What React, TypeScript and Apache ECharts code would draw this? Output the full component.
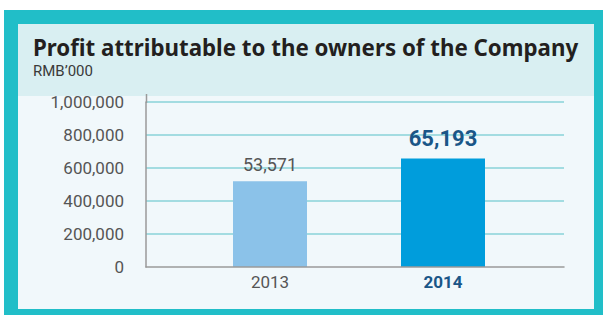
import React, { useEffect, useRef } from "react";
import * as echarts from "echarts";

const categories = ["2013", "2014"];
const barValues2013 = [520000, "-"];
const barValues2014 = ["-", 658000];
const valueLabels = ["53,571", "65,193"];
const yTicks = [0, 200000, 400000, 600000, 800000, 1000000];
const titleText = "Profit attributable to the owners of the Company";
const unitText = "RMB’000";

const fmt = (v: number) => v.toLocaleString("en-US");

export default function App() {
  const ref = useRef<HTMLDivElement>(null);
  useEffect(() => {
    if (!ref.current) return;
    const chart = echarts.init(ref.current, undefined, { renderer: "svg" });
    const yMin = yTicks[0];
    const yMax = yTicks[yTicks.length - 1];
    const yInterval = yTicks[1] - yTicks[0];
    chart.setOption({
      animation: false,
      backgroundColor: "#ffffff",
      title: [
        {
          text: titleText,
          left: 33,
          top: 36,
          padding: 0,
          textStyle: { fontFamily: "Noto Sans", fontWeight: "bold", fontSize: 22.3, color: "#231f20" },
        },
        {
          text: unitText,
          left: 33,
          top: 63,
          padding: 0,
          textStyle: { fontFamily: "Roboto", fontWeight: "normal", fontSize: 15, color: "#3a3a3a" },
        },
      ],
      graphic: [
        { type: "rect", z: -10, shape: { x: 4, y: 10, width: 599, height: 305 }, style: { fill: "#21bec8" } },
        { type: "rect", z: -9, shape: { x: 18, y: 24, width: 576, height: 285 }, style: { fill: "#f1f8fb" } },
        { type: "rect", z: -8, shape: { x: 18, y: 24, width: 576, height: 72 }, style: { fill: "#d9eff2" } },
        { type: "line", z: 5, shape: { x1: 146.5, y1: 94, x2: 146.5, y2: 103 }, style: { stroke: "#9a9a9a", lineWidth: 1.5 } },
      ],
      grid: [
        { left: 146, top: 102, width: 418, height: 165 },
        { left: 183.5, top: 102, width: 346, height: 165 },
      ],
      xAxis: [
        {
          gridIndex: 0,
          type: "category",
          data: [""],
          axisLine: { show: true, lineStyle: { color: "#9a9a9a", width: 1.5 } },
          axisTick: { show: false },
          axisLabel: { show: false },
          z: 3,
        },
        {
          gridIndex: 1,
          type: "category",
          data: categories,
          axisLine: { show: false },
          axisTick: { show: false },
          axisLabel: {
            margin: 6,
            formatter: (v: string, i: number) => (i === 1 ? `{b|${v}}` : `{a|${v}}`),
            rich: {
              a: { fontFamily: "Roboto", fontSize: 17, color: "#555555" },
              b: { fontFamily: "Roboto", fontSize: 17, fontWeight: "bold", color: "#1a5687" },
            },
          },
        },
        {
          gridIndex: 1,
          type: "category",
          data: categories,
          position: "top",
          show: false,
        },
      ],
      yAxis: [
        {
          gridIndex: 0,
          type: "value",
          min: yMin,
          max: yMax,
          interval: yInterval,
          axisLine: { show: true, lineStyle: { color: "#9a9a9a", width: 1.5 } },
          axisTick: { show: false },
          axisLabel: {
            margin: 22,
            formatter: (v: number) => fmt(v),
            fontFamily: "Roboto",
            fontSize: 17,
            color: "#555555",
          },
          splitLine: { show: true, showMinLine: false, lineStyle: { color: "#a3dce1", width: 1.8 } },
        },
        {
          gridIndex: 1,
          type: "value",
          min: yMin,
          max: yMax,
          interval: yInterval,
          show: false,
          splitLine: { show: false },
        },
      ],
      series: [
        {
          type: "bar",
          xAxisIndex: 1,
          yAxisIndex: 1,
          data: barValues2013,
          barWidth: 74,
          itemStyle: { color: "#8bc2e9" },
          label: {
            show: true,
            position: "top",
            distance: 8,
            formatter: (p: any) => valueLabels[p.dataIndex],
            fontFamily: "Roboto",
            fontSize: 18,
            color: "#555555",
          },
        },
        {
          type: "bar",
          xAxisIndex: 2,
          yAxisIndex: 1,
          data: barValues2014,
          barWidth: 84,
          itemStyle: { color: "#009ddc" },
          label: {
            show: true,
            position: "top",
            distance: 9,
            formatter: (p: any) => valueLabels[p.dataIndex],
            fontFamily: "Roboto",
            fontSize: 22,
            fontWeight: "bold",
            color: "#1a5687",
          },
        },
      ],
    });
    return () => chart.dispose();
  }, []);
  return <div ref={ref} style={{ position: "fixed", left: 0, top: 0, width: 603, height: 316 }} />;
}
